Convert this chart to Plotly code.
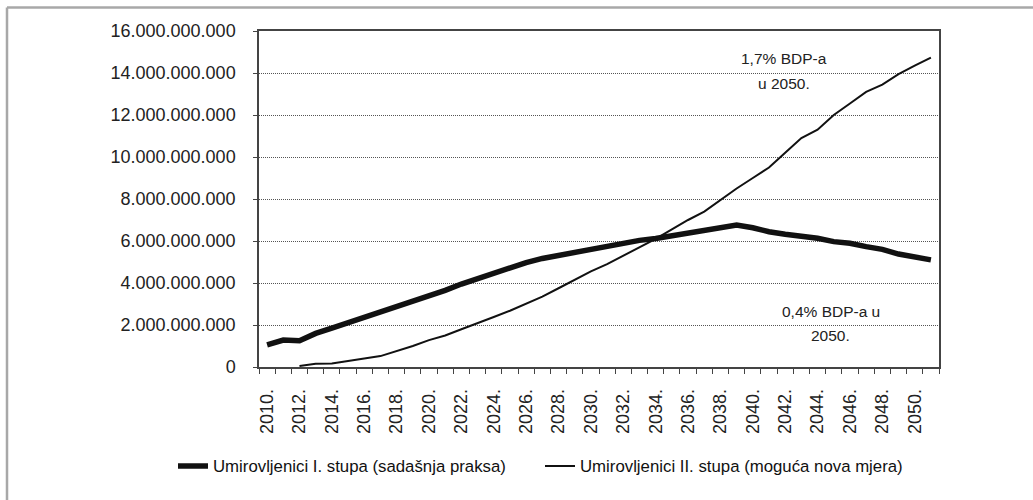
import plotly.graph_objects as go

years = list(range(2010, 2052))
tick_years = list(range(2010, 2051, 2))
tick_labels = [f"{y}." for y in tick_years]

stup1 = [1.05, 1.28, 1.25, 1.6, 1.85, 2.1, 2.35, 2.6, 2.9, 3.15, 3.4, 3.65, 3.95, 4.2,
         4.5, 4.73, 4.97, 5.17, 5.32, 5.47, 5.62, 5.77, 5.9, 6.03, 6.12, 6.25, 6.38,
         6.5, 6.58, 6.76, 6.63, 6.44, 6.32, 6.25, 6.13, 5.97, 5.89, 5.73, 5.6, 5.38,
         5.25, 5.1]
stup2 = [None, None, 0.05, 0.15, 0.17, 0.3, 0.4, 0.52, 0.75, 1.0, 1.28, 1.5, 1.8, 2.08,
         2.38, 2.68, 3.0, 3.35, 3.75, 4.15, 4.55, 4.9, 5.3, 5.7, 6.1, 6.55, 7.0, 7.4,
         7.95, 8.5, 9.0, 9.5, 10.2, 10.9, 11.3, 12.0, 12.55, 13.1, 13.45, 13.95,
         14.35, 14.73]
scale = 1e9
y1 = [v * scale if v is not None else None for v in stup1]
y2 = [v * scale if v is not None else None for v in stup2]

y_ticks = list(range(0, 16000000001, 2000000000))
y_labels = ["0", "2.000.000.000", "4.000.000.000", "6.000.000.000", "8.000.000.000",
            "10.000.000.000", "12.000.000.000", "14.000.000.000", "16.000.000.000"]

name1 = "Umirovljenici I. stupa (sadašnja praksa)"
name2 = "Umirovljenici II. stupa (moguća nova mjera)"

fig = go.Figure()
fig.add_trace(go.Scatter(x=years, y=y1, mode="lines", name=name1,
                         line=dict(color="#111111", width=5.5)))
fig.add_trace(go.Scatter(x=years, y=y2, mode="lines", name=name2,
                         line=dict(color="#111111", width=2)))

font_main = "Liberation Sans, Arial, sans-serif"

fig.update_layout(
    width=1033, height=500,
    margin=dict(l=259, r=94, t=31, b=133),
    paper_bgcolor="white", plot_bgcolor="white",
    showlegend=True,
    legend=dict(orientation="h", x=(173 - 259) / 680, xanchor="left",
                y=(367 - 466) / 336, yanchor="middle",
                font=dict(family=font_main, size=16.8, color="#111"),
                entrywidth=322, entrywidthmode="pixels"),
    xaxis=dict(range=[2009.5, 2051.5], tickmode="array", tickvals=tick_years,
               ticktext=tick_labels, tickangle=-90, ticks="",
               ticklabelstandoff=13,
               tickfont=dict(family=font_main, size=18, color="#222"),
               showgrid=False, zeroline=False, showline=True, linecolor="#444",
               linewidth=1.5, mirror=True,
               minor=dict(tick0=2009.5, dtick=1, ticks="outside", ticklen=5,
                          tickcolor="#444", tickwidth=1, showgrid=False)),
    yaxis=dict(range=[0, 16000000000], tickmode="array", tickvals=y_ticks,
               ticktext=y_labels, ticks="outside", ticklen=4, tickcolor="#444",
               ticklabelstandoff=14,
               tickfont=dict(family=font_main, size=18, color="#222"),
               showgrid=True, gridcolor="#555", griddash="1px,1px", gridwidth=1,
               zeroline=False, showline=True, linecolor="#444", linewidth=1.5,
               mirror=True),
    font=dict(family=font_main),
)

ann_font = dict(family=font_main, size=15.5, color="#222")
fig.add_annotation(x=2041.9, y=14.71e9, text="1,7% BDP-a", showarrow=False, font=ann_font)
fig.add_annotation(x=2041.9, y=13.52e9, text="u 2050.", showarrow=False, font=ann_font)
fig.add_annotation(x=2044.8, y=2.62e9, text="0,4% BDP-a u", showarrow=False, font=ann_font)
fig.add_annotation(x=2044.8, y=1.48e9, text="2050.", showarrow=False, font=ann_font)

# outer frame lines (gray)
fig.add_shape(type="line", xref="paper", yref="paper",
              x0=(7 - 259) / 680, x1=(1033 - 259) / 680,
              y0=(367 - 7.5) / 336, y1=(367 - 7.5) / 336,
              line=dict(color="#a8a8a8", width=2.5))
fig.add_shape(type="line", xref="paper", yref="paper",
              x0=(7 - 259) / 680, x1=(7 - 259) / 680,
              y0=(367 - 7.5) / 336, y1=(367 - 500) / 336,
              line=dict(color="#a8a8a8", width=2.5))

fig.write_html("out.html", config={"displayModeBar": False},
               post_script="document.body.style.margin='0';")
